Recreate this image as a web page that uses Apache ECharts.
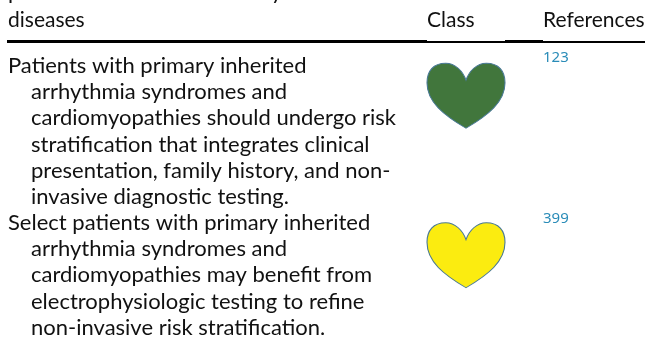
<!DOCTYPE html>
<html>
<head>
<meta charset="utf-8">
<style>html,body{margin:0;padding:0;background:#fff}#main{width:647px;height:343px}</style>
<script src="https://cdn.jsdelivr.net/npm/echarts@6/dist/echarts.min.js"></script>
</head>
<body>
<div id="main"></div>
<script>
var headerLines = ['patients with inherited arrhythmia', 'diseases'];
var columnNames = ['Class', 'References'];
var firstRow = ['Patients with primary inherited', 'arrhythmia syndromes and', 'cardiomyopathies should undergo risk', 'stratification that integrates clinical', 'presentation, family history, and non-', 'invasive diagnostic testing.'];
var secondRow = ['Select patients with primary inherited', 'arrhythmia syndromes and', 'cardiomyopathies may benefit from', 'electrophysiologic testing to refine', 'non-invasive risk stratification.'];
var rowNames = ['first', 'second'];
var rowClass = [1, 1];
var rowColors = ['#41763c', '#fbec10'];
var rowRefs = ['123', '399'];

var heart = 'path://M50 100 C22 80 0 60 0 30 C0 12 8 0 24 0 C36 0 46 12 50 26 C54 12 64 0 76 0 C92 0 100 12 100 30 C100 60 78 80 50 100 Z';
var font = 'Lato, sans-serif';
var black = '#111';

function textEl(s, x, y, size, color) {
    return {type: 'text', x: x, y: y, silent: true, style: {text: s, fill: color || black, font: (size || 22) + 'px ' + font, verticalAlign: 'bottom'}};
}
// text is hung from its bottom edge, so baseline + descent
function lineY(b) { return b + 4; }

function rule(x, w, y, h) {
    return {type: 'rect', shape: {x: x, y: y, width: w, height: h}, style: {fill: '#000'}, silent: true};
}

var els = [];
els.push(textEl(headerLines[0], 8, lineY(-1.5)));
els.push(textEl(headerLines[1], 8, lineY(27), 21));
els.push(textEl(columnNames[0], 427, lineY(27), 21));
els.push(textEl(columnNames[1], 543, lineY(27), 21));
els.push(rule(7, 420, 40, 3));
els.push(rule(427, 78, 41, 2));
els.push(rule(505, 38, 40, 3));
els.push(rule(543, 102, 41, 2));

firstRow.forEach(function (s, i) {
    els.push(textEl(s, i ? 31 : 8, lineY(73 + i * 26.2)));
});
secondRow.forEach(function (s, i) {
    els.push(textEl(s, i ? 31 : 8, lineY(230 + i * 26.2)));
});
els.push({type: 'text', x: 543, y: 65, silent: true, style: {text: rowRefs[0], fill: '#2a8cb8', font: '15px "Noto Sans", sans-serif', verticalAlign: 'bottom'}});
els.push({type: 'text', x: 543, y: 226, silent: true, style: {text: rowRefs[1], fill: '#2a8cb8', font: '15px "Noto Sans", sans-serif', verticalAlign: 'bottom'}});

var myChart = echarts.init(document.getElementById('main'));
var option = {
    animation: false,
    grid: {left: 426, right: 141, top: 16, bottom: 8},
    xAxis: {type: 'value', min: 0, max: 2, show: false},
    yAxis: {type: 'category', data: rowNames, inverse: true, show: false},
    graphic: els,
    series: [{
        type: 'scatter',
        symbol: heart,
        symbolSize: [78, 65],
        silent: true,
        itemStyle: {borderColor: '#4a7a96', borderWidth: 1, opacity: 1},
        data: rowClass.map(function (v, i) {
            return {value: [v, rowNames[i]], itemStyle: {color: rowColors[i], opacity: 1}};
        })
    }]
};
myChart.setOption(option);
</script>
</body>
</html>
